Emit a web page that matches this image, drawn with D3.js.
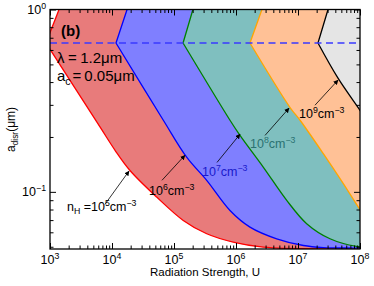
<!DOCTYPE html>
<html>
<head>
<meta charset="utf-8">
<script src="https://cdn.jsdelivr.net/npm/d3@7"></script>
<style>
  body { margin: 0; background: #fff; }
  text { font-family: "Liberation Sans", Arial, sans-serif; }
</style>
</head>
<body>
<div id="chart"></div>
<script>
var svgWidth = 374;
var svgHeight = 286;

var margin = {
  top: 9.5,
  right: 14,
  bottom: 37,
  left: 50
};

var width = svgWidth - margin.left - margin.right;
var height = svgHeight - margin.top - margin.bottom;

// Data: each curve = [top point, vertex on dashed line, lower branch ...]  (U, a_disr in um)
var densities = [5, 6, 7, 8, 9];
var curve5 = [[1.40e3, 1], [8.6e2, 0.655], [6.4e3, 0.227], [1.12e4, 0.169], [1.95e4, 0.131], [5.26e4, 0.0936],
  [1.41e5, 0.0697], [3.37e5, 0.0589], [9.0e5, 0.0530], [2.75e6, 0.0497], [7.4e6, 0.0489], [3e7, 0.0487], [3e8, 0.0487]];
var curve6 = [[1.75e4, 1], [1.16e4, 0.655], [6.73e4, 0.247], [1.60e5, 0.155], [3.37e5, 0.1157], [8.0e5, 0.0791],
  [1.68e6, 0.0641], [4.53e6, 0.0553], [1.22e7, 0.0508], [2.56e7, 0.0495], [8e7, 0.0492], [3e8, 0.0492]];
var curve7 = [[2.02e5, 1], [1.40e5, 0.655], [8.0e5, 0.247], [1.16e6, 0.204], [2.75e6, 0.1368], [6.58e6, 0.0898],
  [1.38e7, 0.0669], [3.28e7, 0.0553], [8.85e7, 0.0502], [2e8, 0.0494], [3e8, 0.0493]];
var curve8 = [[2.62e6, 1], [1.68e6, 0.655], [7.4e6, 0.291], [1.08e7, 0.247], [2.56e7, 0.162], [5.38e7, 0.111],
  [9.75e7, 0.0809], [1.3e8, 0.070]];
var curve9 = [[3.05e7, 1], [2.1e7, 0.655], [4.42e7, 0.42], [1.0e8, 0.28], [1.3e8, 0.245]];
var curves = [curve5, curve6, curve7, curve8, curve9];

var aDashed = 0.655;

// annotation arrows (tail -> head) and label anchors, in data units
var arrowTails = [[7.7e3, 0.0854], [6.4e4, 0.1157], [4.94e5, 0.145], [2.94e6, 0.204], [1.88e7, 0.2987]];
var arrowHeads = [[1.88e4, 0.130], [1.50e5, 0.1587], [1.16e6, 0.207], [7.16e6, 0.2877], [4.42e7, 0.41]];
var labelAnchors = [[1.88e3, 0.079], [3.95e4, 0.0957], [2.83e5, 0.1217], [1.68e6, 0.173], [1.04e7, 0.2535]];

var xMajorTicks = [1e3, 1e4, 1e5, 1e6, 1e7, 1e8];
var yMajorTicks = [0.1, 1];

// styles
var fillColors = ["#e87b7b", "#7f7fff", "#7fbfbf", "#ffc196", "#e5e5e5"];
var lineColors = ["#ff0000", "#0000ff", "#008000", "#ffa500", "#000000"];
var labelColors = ["#000000", "#000000", "#1a1acc", "#2a7272", "#000000"];

var svg = d3.select("#chart")
  .append("svg")
  .attr("width", svgWidth)
  .attr("height", svgHeight);

svg.append("defs").append("clipPath")
  .attr("id", "plotClip")
  .append("rect")
  .attr("width", width)
  .attr("height", height);

svg.select("defs").append("marker")
  .attr("id", "arrowHead")
  .attr("viewBox", "0 0 10 10")
  .attr("refX", 9)
  .attr("refY", 5)
  .attr("markerWidth", 5)
  .attr("markerHeight", 5)
  .attr("markerUnits", "userSpaceOnUse")
  .attr("orient", "auto")
  .append("path")
  .attr("d", "M0,0 L10,5 L0,10 Z")
  .attr("fill", "#000");

var chartGroup = svg.append("g")
  .attr("transform", `translate(${margin.left}, ${margin.top})`);

// scales
var xScale = d3.scaleLog().domain([1e3, 1e8]).range([0, width]);
var yScale = d3.scaleLog().domain([0.0486, 1]).range([height, 0]);

var plot = chartGroup.append("g").attr("clip-path", "url(#plotClip)");

var upperLine = d3.line().x(d => xScale(d[0])).y(d => yScale(d[1]));
var lowerLine = d3.line().x(d => xScale(d[0])).y(d => yScale(d[1])).curve(d3.curveCatmullRom.alpha(0.5));

function curvePath(pts) {
  return upperLine(pts.slice(0, 2)) + "L" + lowerLine(pts.slice(1)).slice(1);
}

curves.forEach(function(pts, i) {
  var last = pts[pts.length - 1];
  var far = 1e9;
  var areaPath = curvePath(pts)
    + "L" + xScale(far) + "," + yScale(last[1])
    + "L" + xScale(far) + "," + yScale(2)
    + "L" + xScale(pts[0][0]) + "," + yScale(2) + "Z";
  plot.append("path")
    .attr("d", areaPath)
    .attr("fill", fillColors[i]);
  plot.append("path")
    .attr("d", curvePath(pts))
    .attr("fill", "none")
    .attr("stroke", lineColors[i])
    .attr("stroke-width", 1.3);
});

// dashed line
plot.append("line")
  .attr("x1", 0)
  .attr("x2", width)
  .attr("y1", yScale(aDashed))
  .attr("y2", yScale(aDashed))
  .attr("stroke", "#3a3aff")
  .attr("stroke-width", 1.5)
  .attr("stroke-dasharray", "7,4.5");

// ticks (inward, all four sides)
function ticks(axisFn, scale, values, size) {
  return axisFn(scale).tickValues(values).tickSize(-size).tickFormat("");
}
var xMinor = xScale.ticks().filter(d => xMajorTicks.indexOf(d) < 0);
var yMinor = yScale.ticks().filter(d => yMajorTicks.indexOf(d) < 0);

[[d3.axisBottom, xScale, `translate(0, ${height})`, xMajorTicks, xMinor],
 [d3.axisTop, xScale, "translate(0, 0)", xMajorTicks, xMinor],
 [d3.axisLeft, yScale, "translate(0, 0)", yMajorTicks, yMinor],
 [d3.axisRight, yScale, `translate(${width}, 0)`, yMajorTicks, yMinor]].forEach(function(a) {
  var gMaj = chartGroup.append("g").attr("transform", a[2]).call(ticks(a[0], a[1], a[3], 6));
  var gMin = chartGroup.append("g").attr("transform", a[2]).call(ticks(a[0], a[1], a[4], 3.5));
  [gMaj, gMin].forEach(function(g) {
    g.select(".domain").remove();
    g.selectAll("line").attr("stroke", "#000").attr("stroke-width", 1);
  });
});

chartGroup.append("rect")
  .attr("width", width)
  .attr("height", height)
  .attr("fill", "none")
  .attr("stroke", "#000")
  .attr("stroke-width", 1.3);

// text with super/subscripts
function richText(t, parts, size) {
  var shift = 0;
  parts.forEach(function(p) {
    var target = p.s === "sup" ? -0.4 * size : (p.s === "sub" ? 0.28 * size : 0);
    var ts = t.append("tspan")
      .attr("dy", target - shift)
      .attr("font-size", p.s ? size * 0.7 : size)
      .text(p.t);
    if (p.dx) ts.attr("dx", p.dx);
    shift = target;
  });
  return t;
}

// tick labels
xMajorTicks.forEach(function(v) {
  richText(chartGroup.append("text")
    .attr("x", xScale(v))
    .attr("y", height + 15)
    .attr("text-anchor", "middle"),
    [{t: "10"}, {t: String(Math.round(Math.log10(v))), s: "sup"}], 12.5);
});
yMajorTicks.forEach(function(v) {
  var e = Math.round(Math.log10(v));
  richText(chartGroup.append("text")
    .attr("x", -4)
    .attr("y", yScale(v) + 4)
    .attr("text-anchor", "end"),
    [{t: "10"}, {t: e < 0 ? "\u2212" + (-e) : String(e), s: "sup"}], 12.5);
});

// axis labels
richText(svg.append("text")
  .attr("x", margin.left + width / 2)
  .attr("y", 276)
  .attr("text-anchor", "middle"),
  [{t: "Radiation Strength, U"}], 11.5);

richText(svg.append("text")
  .attr("transform", `translate(15, ${margin.top + 120}) rotate(-90)`)
  .attr("text-anchor", "middle"),
  [{t: "a"}, {t: "disr", s: "sub"}, {t: "(\u03bcm)"}], 12);

// panel texts
svg.append("text")
  .attr("x", 61)
  .attr("y", 36)
  .attr("font-size", 15)
  .attr("font-weight", "bold")
  .text("(b)");

richText(svg.append("text").attr("x", 57).attr("y", 63),
  [{t: "\u03bb"}, {t: "=", dx: 3.5}, {t: "1.2\u03bcm", dx: 3.5}], 15);
richText(svg.append("text").attr("x", 57).attr("y", 81),
  [{t: "a"}, {t: "c", s: "sub"}, {t: "=", dx: 2}, {t: "0.05\u03bcm", dx: 3}], 15);

// annotations
densities.forEach(function(n, i) {
  chartGroup.append("line")
    .attr("x1", xScale(arrowTails[i][0]))
    .attr("y1", yScale(arrowTails[i][1]))
    .attr("x2", xScale(arrowHeads[i][0]))
    .attr("y2", yScale(arrowHeads[i][1]))
    .attr("stroke", "#000")
    .attr("stroke-width", 0.8)
    .attr("marker-end", "url(#arrowHead)");

  var parts = [{t: "10"}, {t: String(n), s: "sup"}, {t: "cm"}, {t: "\u22123", s: "sup"}];
  if (i === 0) {
    parts = [{t: "n"}, {t: "H", s: "sub"}, {t: " =10"}, {t: String(n), s: "sup"}, {t: "cm"}, {t: "\u22123", s: "sup"}];
  }
  richText(chartGroup.append("text")
    .attr("x", xScale(labelAnchors[i][0]))
    .attr("y", yScale(labelAnchors[i][1]))
    .attr("fill", labelColors[i]),
    parts, 12.5);
});
</script>
</body>
</html>
